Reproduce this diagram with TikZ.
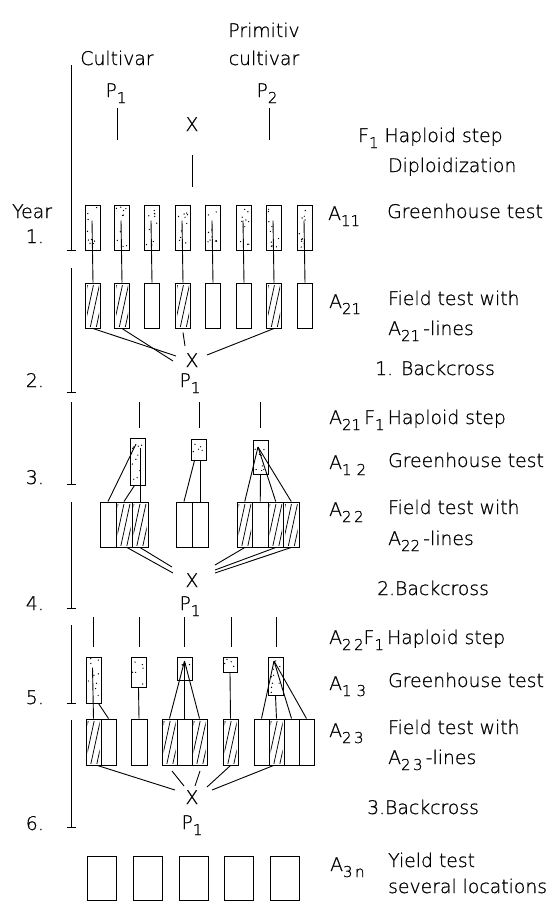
\documentclass[tikz,border=0pt]{standalone}
\usepackage{fontspec}
\IfFontExistsTF{DejaVu Sans ExtraLight}
  {\setmainfont{DejaVu Sans ExtraLight}[FakeBold=0.8,AutoFakeBold=0.8]}
  {\setmainfont{DejaVu Sans}}
\usetikzlibrary{calc}

% lowered index digits as used in the scheme (A_{21}, P_1 ...)
\newcommand\sbs[1]{\raisebox{-0.32em}{\fontsize{15}{15}\selectfont #1}}

\tikzset{
  lbl/.style={inner sep=0pt, font=\fontsize{18.8}{20}\selectfont\bfseries},
  cell/.style={draw, line width=1pt, inner sep=0pt, rectangle},
  conn/.style={line width=0.9pt},
  tl/.style={line width=1pt},
}

% stippled greenhouse cell: name, centre x, top y, width, height, number of dots
\newcommand\dotcell[6]{%
  \node[cell, minimum width=#4pt, minimum height=#5pt] (#1) at (#2,{#3+#5/2}) {};
  \foreach \dotno in {1,...,#6}{%
    \fill ($(#1.north west)+({2+rnd*(#4-4)},{2+rnd*(#5-4)})$) circle (0.7pt);}%
}
% field plot: name, left x, top y, width, height
\newcommand\fcell[5]{%
  \node[cell, minimum width=#4pt, minimum height=#5pt] (#1) at ({#2+#4/2},{#3+#5/2}) {};%
}
% steep diagonal hatching inside a plot
\newcommand\hatchcell[1]{%
  \begin{scope}
    \clip ($(#1.north west)+(2,2.5)$) rectangle ($(#1.south east)+(-2,-2.5)$);
    \foreach \hk in {-13,-7,...,23}{\draw[line width=0.75pt] ($(#1.south west)+(\hk,0)$) -- ++(10,-46);}
  \end{scope}%
}
% one year bar of the time axis, with its end tick
\newcommand\yearbar[3]{%
  \coordinate (#1t) at (71,#2); \coordinate (#1b) at (71,#3);
  \draw[tl] (#1t) -- (#1b);
  \draw[tl] ($(#1b)+(-4.5,0)$) -- ($(#1b)+(4.5,0)$);%
}

\begin{document}
\begin{tikzpicture}[x=1pt,y=-1pt]
\pgfmathsetseed{12}
\useasboundingbox (0,0) rectangle (557,906);

% ---------- time axis ----------
\yearbar{ya}{65}{250}
\yearbar{yb}{268}{392}
\yearbar{yc}{402}{484}
\yearbar{yd}{502}{608}
\yearbar{ye}{625}{703}
\yearbar{yf}{720}{827}
\node[lbl, anchor=base west] (year) at (12,218) {Year};
\node[lbl, anchor=base east] (n1) at (44,243) {1.};
\node[lbl, anchor=base east] (n2) at (44,387) {2.};
\node[lbl, anchor=base east] (n3) at (44,484) {3.};
\node[lbl, anchor=base east] (n4) at (44,610) {4.};
\node[lbl, anchor=base east] (n5) at (44,704) {5.};
\node[lbl, anchor=base east] (n6) at (44,830) {6.};

% ---------- parents ----------
\node[lbl, anchor=base] (prim) at (264,37) {Primitiv};
\node[lbl, anchor=base] (cultb) at (264,65) {cultivar};
\node[lbl, anchor=base] (culta) at (117,65) {Cultivar};
\node[lbl, anchor=base] (pone) at (116,97) {P\sbs{1}};
\node[lbl, anchor=base] (ptwo) at (267,97) {P\sbs{2}};
\node[lbl, anchor=base] (xtop) at (192,131) {X};
\coordinate (pa1) at (117,108); \coordinate (pa2) at (117,140);
\coordinate (pb1) at (269,108); \coordinate (pb2) at (269,140);
\coordinate (fa1) at (192,155); \coordinate (fa2) at (192,187);
\draw[conn] (pa1) -- (pa2);
\draw[conn] (pb1) -- (pb2);
\draw[conn] (fa1) -- (fa2);
\node[lbl, anchor=base west] (lf1) at (358,142) {F\sbs{1} Haploid step};
\node[lbl, anchor=base west] (ldip) at (388,172) {Diploidization};

% ---------- year 1 / 2 ----------
\foreach \c [count=\i] in {93,122,152,183,213,244,274,305}{%
  \dotcell{d\i}{\c}{205}{15}{45}{10}
  \node[cell, minimum width=15pt, minimum height=45pt] (f\i) at (\c,305.5) {};
  \draw[conn] ($(d\i.north)+(-1,16)$) -- (f\i.north);
}
\hatchcell{f1}\hatchcell{f2}\hatchcell{f4}\hatchcell{f7}
\node[lbl, anchor=base west] (la11) at (328,220) {A\sbs{11}};
\node[lbl, anchor=base west] (lgh1) at (387,218) {Greenhouse test};
\node[lbl, anchor=base west] (la21) at (329,308) {A\sbs{21}};
\node[lbl, anchor=base west] (lft1) at (388,305) {Field test with};
\node[lbl, anchor=base west] (lln1) at (388,335) {A\sbs{21}\,-lines};
\node[lbl, anchor=base west] (lbc1) at (375,375) {1. Backcross};

\node[lbl, anchor=base] (xa) at (192,367) {X};
\node[lbl, anchor=base] (pxa) at (190,387) {P\sbs{1}};
\coordinate (xa1) at (176,356);
\coordinate (xa2) at (173,361);
\coordinate (xa3) at (185,346);
\coordinate (xa4) at (207,355);
\draw[conn] (f1.south) -- (xa1);
\draw[conn] (f2.south) -- (xa2);
\draw[conn] ($(f4.south)+(0,4)$) -- (xa3);
\draw[conn] (f7.south) -- (xa4);

% ---------- year 3 / 4 ----------
\node[lbl, anchor=base west] (lhs2) at (329,424) {A\sbs{21}\,F\sbs{1}\,Haploid step};
\coordinate (ha1) at (139,402); \coordinate (ha2) at (139,428);
\coordinate (hb1) at (199,402); \coordinate (hb2) at (199,428);
\coordinate (hc1) at (260,402); \coordinate (hc2) at (260,428);
\draw[conn] (ha1) -- (ha2);
\draw[conn] (hb1) -- (hb2);
\draw[conn] (hc1) -- (hc2);

\dotcell{ga}{137.5}{438}{15}{47}{10}
\dotcell{gb}{198.5}{439}{15}{21}{5}
\dotcell{gc}{260.5}{440}{15}{34}{8}

\fcell{la}{100}{502}{16}{45}
\fcell{lb}{116}{502}{16}{45}
\fcell{lc}{132}{502}{16}{45}
\fcell{ma}{176}{502}{16}{45}
\fcell{mb}{192}{502}{16}{45}
\fcell{ra}{237}{502}{15.5}{45}
\fcell{rb}{252.5}{502}{15.5}{45}
\fcell{rc}{268}{502}{15.5}{45}
\fcell{rd}{283.5}{502}{15.5}{45}
\hatchcell{lb}\hatchcell{lc}\hatchcell{ra}\hatchcell{rc}\hatchcell{rd}

\coordinate (apa) at (136,444);
\draw[conn] (apa) -- (la.north);
\draw[conn] ($(ga.south)+(-3,0)$) -- (lb.north);
\draw[conn] ($(ga.north)+(2.5,10)$) -- (lc.north);
\draw[conn] ($(gb.south)+(-4,0)$) -- (ma.north);
\draw[conn] ($(gb.south)+(1.5,0)$) -- (mb.north);
\coordinate (apc) at (258,447);
\draw[conn] (apc) -- (ra.north);
\draw[conn] (apc) -- (rc.north);
\draw[conn] (apc) -- (rd.north);
\draw[conn] (gc.south) -- (rb.north);

\node[lbl, anchor=base west] (la12) at (329,469) {A\sbs{1\,\,2}};
\node[lbl, anchor=base west] (lgh2) at (388,467) {Greenhouse test};
\node[lbl, anchor=base west] (la22) at (329,516) {A\sbs{2\,2}};
\node[lbl, anchor=base west] (lft2) at (388,514) {Field test with};
\node[lbl, anchor=base west] (lln2) at (388,545) {A\sbs{22}\,-lines};
\node[lbl, anchor=base west] (lbc2) at (377,595) {2.Backcross};

\node[lbl, anchor=base] (xb) at (192,587) {X};
\node[lbl, anchor=base] (pxb) at (190,610) {P\sbs{1}};
\coordinate (xb1) at (173,573);
\coordinate (xb2) at (172,567);
\coordinate (xb3) at (215,565);
\coordinate (xb4) at (215,570);
\coordinate (xb5) at (215,573);
\draw[conn] ($(lb.south)+(3,0)$) -- (xb1);
\draw[conn] (lc.south) -- (xb2);
\draw[conn] (ra.south) -- (xb3);
\draw[conn] (rc.south) -- (xb4);
\draw[conn] (rd.south) -- (xb5);

% ---------- year 5 / 6 ----------
\node[lbl, anchor=base west] (lhs3) at (329,644) {A\sbs{2\,2}F\sbs{1}\,Haploid step};
\foreach \c [count=\i] in {93,139,184,231,276}{%
  \coordinate (hx\i a) at (\c,617); \coordinate (hx\i b) at (\c,647);
  \draw[conn] (hx\i a) -- (hx\i b);
}
\dotcell{ha}{93.5}{657}{15}{46}{9}
\dotcell{hb}{138.5}{657}{15}{30}{6}
\dotcell{hc}{184.5}{657}{15}{23}{6}
\dotcell{hd}{230}{657}{14}{15}{4}
\dotcell{he}{275.5}{657}{15}{38}{9}

\fcell{ka}{86}{719}{15}{46}
\fcell{kb}{101}{719}{15}{46}
\fcell{kc}{131}{719}{16}{46}
\fcell{kd}{162}{719}{15}{46}
\fcell{ke}{177}{719}{15}{46}
\fcell{kf}{192}{719}{15}{46}
\fcell{kg}{223}{719}{15}{46}
\fcell{kh}{254}{719}{15}{46}
\fcell{ki}{269}{719}{15}{46}
\fcell{kj}{284}{719}{15}{46}
\fcell{kk}{299}{719}{15}{46}
\hatchcell{ka}\hatchcell{kd}\hatchcell{kf}\hatchcell{kg}\hatchcell{ki}

\draw[conn] ($(ha.north)+(-1,11)$) -- (ka.north);
\draw[conn] ($(ha.south)+(5,0)$) -- (kb.north);
\draw[conn] (hb.south) -- (kc.north);
\coordinate (ape) at (184.5,661);
\draw[conn] (ape) -- (kd.north);
\draw[conn] (ape) -- (ke.north);
\draw[conn] (ape) -- (kf.north);
\draw[conn] (hd.south) -- (kg.north);
\coordinate (apf) at (274,661);
\draw[conn] (apf) -- (kh.north);
\draw[conn] (apf) -- (kj.north);
\draw[conn] (apf) -- (kk.north);
\draw[conn] (he.south) -- (ki.north);

\node[lbl, anchor=base west] (la13) at (329,690) {A\sbs{1\,\,3}};
\node[lbl, anchor=base west] (lgh3) at (388,687) {Greenhouse test};
\node[lbl, anchor=base west] (la23) at (329,737) {A\sbs{2\,3}};
\node[lbl, anchor=base west] (lft3) at (388,734) {Field test with};
\node[lbl, anchor=base west] (lln3) at (388,764) {A\sbs{2\,3}\,-lines};
\node[lbl, anchor=base west] (lbc3) at (367,814) {3.Backcross};

\node[lbl, anchor=base] (xc) at (192,804) {X};
\node[lbl, anchor=base] (pxc) at (192,829) {P\sbs{1}};
\coordinate (xc1) at (175,790);
\coordinate (xc2a) at (172,771); \coordinate (xc2b) at (184,786);
\coordinate (xc3a) at (200,771); \coordinate (xc3b) at (195,786);
\coordinate (xc4) at (207,787);
\coordinate (xc5) at (212,790);
\draw[conn] ($(ka.south)+(4,0)$) -- (xc1);
\draw[conn] (xc2a) -- (xc2b);
\draw[conn] (xc3a) -- (xc3b);
\draw[conn] (kg.south) -- (xc4);
\draw[conn] ($(ki.south)+(-3,0)$) -- (xc5);

% ---------- yield test ----------
\foreach \l [count=\i] in {87,133,179,224,270}{%
  \fcell{yt\i}{\l}{856}{29}{44}
}
\node[lbl, anchor=base west] (la3n) at (330,871) {A\sbs{3\,n}};
\node[lbl, anchor=base west] (lyt) at (388,867) {Yield test};
\node[lbl, anchor=base west] (lsl) at (388,893) {several locations};
\end{tikzpicture}
\end{document}
